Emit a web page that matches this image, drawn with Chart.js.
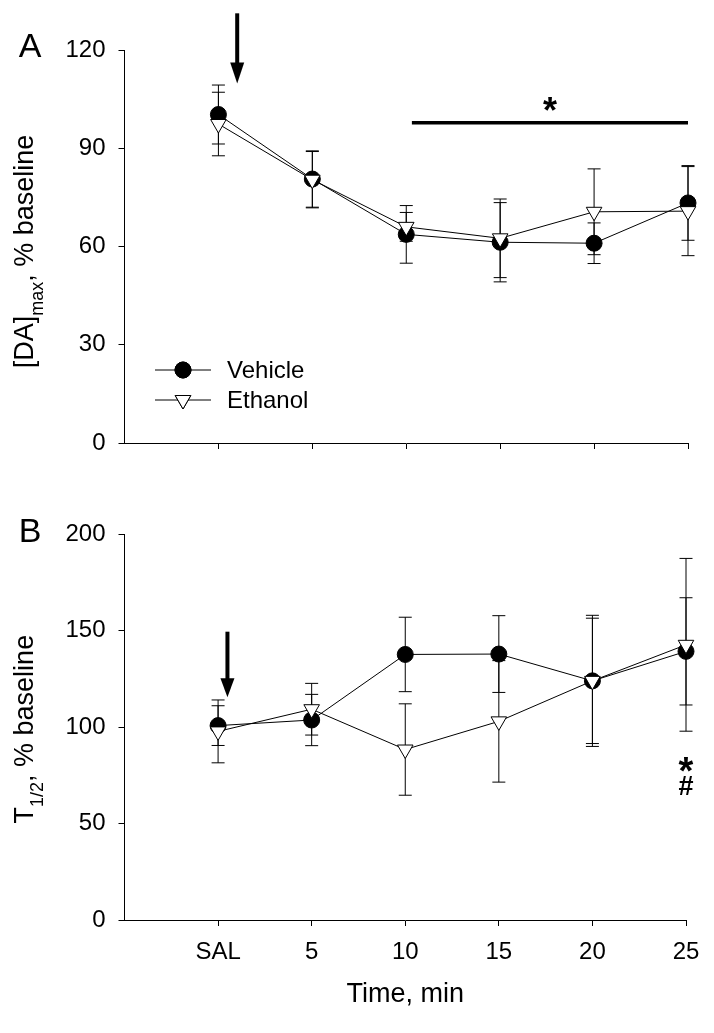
<!DOCTYPE html>
<html lang="en">
<head>
    <meta charset="UTF-8">
    <title>DA max and T1/2 vs time</title>
    <script src="https://cdn.jsdelivr.net/npm/chart.js"></script>
    <style>
        body { margin: 0; background: #fff; }
        #wrap { position: relative; width: 714px; height: 1033px; }
        canvas { position: absolute; left: 0; }
    </style>
</head>
<body>
<div id="wrap">
    <canvas id="chartA" width="714" height="480" style="top:0"></canvas>
    <canvas id="chartB" width="714" height="553" style="top:480px"></canvas>
</div>
<script>
    // x slots: SAL, then minutes after injection
    const timeLabels = ["SAL", "5", "10", "15", "20", "25"];
    const timeSlots = [0, 1, 2, 3, 4, 5];

    // panel A: [DA]max, % baseline (mean, SEM)
    const daVehicle = [100.3, 80.6, 63.7, 61.3, 61.0, 73.3];
    const daVehicleSem = [9.0, 8.6, 8.8, 12.1, 6.2, 11.4];
    const daEthanol = [97.4, 80.4, 66.0, 62.5, 70.6, 70.8];
    const daEthanolSem = [9.7, 8.6, 4.4, 12.0, 13.1, 13.6];

    // panel B: T1/2, % baseline (mean, SEM)
    const t12Vehicle = [100.8, 103.7, 137.7, 137.9, 124.0, 139.3];
    const t12VehicleSem = [10.3, 13.3, 19.3, 19.9, 32.5, 27.8];
    const t12Ethanol = [97.8, 109.3, 88.4, 103.0, 124.0, 142.7];
    const t12EthanolSem = [16.3, 13.4, 23.7, 31.5, 34.0, 44.8];

    const FONT = '"Liberation Sans", Arial, sans-serif';
    Chart.defaults.color = "#000";
    Chart.defaults.font.family = FONT;

    function points(values) {
        return timeSlots.map((x, i) => ({ x: x, y: values[i] }));
    }

    function vehicleSet(values, sem) {
        return {
            label: "Vehicle", data: points(values), sem: sem, order: 1,
            borderColor: "#000", borderWidth: 1, clip: false,
            pointStyle: "circle", pointRadius: 8,
            pointBackgroundColor: "#000", pointBorderColor: "#000", pointBorderWidth: 1
        };
    }

    function ethanolSet(values, sem) {
        return {
            label: "Ethanol", data: points(values), sem: sem, order: 0,
            borderColor: "#000", borderWidth: 1, clip: false,
            pointStyle: "triangle", pointRotation: 180, pointRadius: 9,
            pointBackgroundColor: "#fff", pointBorderColor: "#000", pointBorderWidth: 1
        };
    }

    // SEM bars, drawn under the markers
    const errorBars = {
        id: "errorBars",
        beforeDatasetsDraw(chart) {
            const ctx = chart.ctx, xs = chart.scales.x, ys = chart.scales.y;
            ctx.save();
            ctx.strokeStyle = "#000";
            ctx.lineWidth = 1;
            chart.data.datasets.forEach(ds => {
                ds.data.forEach((p, i) => {
                    const x = xs.getPixelForValue(p.x);
                    const top = ys.getPixelForValue(p.y + ds.sem[i]);
                    const bot = ys.getPixelForValue(p.y - ds.sem[i]);
                    ctx.beginPath();
                    ctx.moveTo(x, top); ctx.lineTo(x, bot);
                    ctx.moveTo(x - 6.5, top); ctx.lineTo(x + 6.5, top);
                    ctx.moveTo(x - 6.5, bot); ctx.lineTo(x + 6.5, bot);
                    ctx.stroke();
                });
            });
            ctx.restore();
        }
    };

    function drawArrow(ctx, x, yTop, yTip, headLen) {
        ctx.save();
        ctx.fillStyle = "#000";
        ctx.strokeStyle = "#000";
        ctx.lineWidth = 4;
        ctx.beginPath();
        ctx.moveTo(x, yTop);
        ctx.lineTo(x, yTip - headLen + 2);
        ctx.stroke();
        ctx.beginPath();
        ctx.moveTo(x - 7, yTip - headLen);
        ctx.lineTo(x + 7, yTip - headLen);
        ctx.lineTo(x, yTip);
        ctx.closePath();
        ctx.fill();
        ctx.restore();
    }

    // centre the ink of a glyph on (x, y)
    function drawInkCentered(ctx, text, font, x, y) {
        ctx.save();
        ctx.fillStyle = "#000";
        ctx.font = font;
        ctx.textAlign = "center";
        ctx.textBaseline = "alphabetic";
        const m = ctx.measureText(text);
        const mid = (m.actualBoundingBoxAscent - m.actualBoundingBoxDescent) / 2;
        ctx.fillText(text, x, y + mid);
        ctx.restore();
    }

    // rotated y title with a subscript part
    function drawYTitle(ctx, baseX, centerY, parts) {
        ctx.save();
        ctx.fillStyle = "#000";
        ctx.translate(baseX, centerY);
        ctx.rotate(-Math.PI / 2);
        ctx.textBaseline = "alphabetic";
        ctx.textAlign = "left";
        const widths = parts.map(p => {
            ctx.font = p[1] + "px " + FONT;
            return ctx.measureText(p[0]).width;
        });
        let x = -widths.reduce((s, w) => s + w, 0) / 2;
        parts.forEach((p, i) => {
            ctx.font = p[1] + "px " + FONT;
            ctx.fillText(p[0], x, p[2]);
            x += widths[i];
        });
        ctx.restore();
    }

    // panel furniture: letter, y title, arrow, significance marks, legend
    function makeExtras(cfg) {
        return {
            id: "extras",
            afterDraw(chart) {
                const ctx = chart.ctx, xs = chart.scales.x, ys = chart.scales.y;

                ctx.save();
                ctx.fillStyle = "#000";
                ctx.font = "34px " + FONT;
                ctx.textAlign = "center";
                ctx.textBaseline = "alphabetic";
                ctx.fillText(cfg.letter, 30, cfg.letterY);
                ctx.restore();

                drawYTitle(ctx, 33, (ys.top + ys.bottom) / 2 + cfg.titleShift, cfg.yTitle);

                const a = cfg.arrow;
                drawArrow(ctx, xs.getPixelForValue(a.x), ys.getPixelForValue(a.from),
                    ys.getPixelForValue(a.to), a.head);

                if (cfg.sigBar) {
                    const s = cfg.sigBar;
                    ctx.save();
                    ctx.strokeStyle = "#000";
                    ctx.lineWidth = 3.5;
                    ctx.beginPath();
                    ctx.moveTo(xs.getPixelForValue(s.x1), ys.getPixelForValue(s.y));
                    ctx.lineTo(xs.getPixelForValue(s.x2), ys.getPixelForValue(s.y));
                    ctx.stroke();
                    ctx.restore();
                }

                cfg.marks.forEach(m => {
                    drawInkCentered(ctx, m.text, m.font, xs.getPixelForValue(m.x), ys.getPixelForValue(m.y));
                });

                if (cfg.legend) {
                    const lg = cfg.legend;
                    ctx.save();
                    ctx.font = "24px " + FONT;
                    ctx.textBaseline = "middle";
                    ctx.textAlign = "left";
                    chart.data.datasets.slice().sort((p, q) => q.order - p.order).forEach((ds, i) => {
                        const y = lg.y + i * lg.gap;
                        ctx.strokeStyle = "#000";
                        ctx.lineWidth = 1;
                        ctx.beginPath();
                        ctx.moveTo(lg.x, y);
                        ctx.lineTo(lg.x + 56, y);
                        ctx.stroke();
                        Chart.helpers.drawPoint(ctx, {
                            pointStyle: ds.pointStyle, rotation: ds.pointRotation || 0,
                            radius: ds.pointRadius, borderWidth: 1
                        }, lg.x + 28, y);
                        ctx.fillStyle = ds.pointBackgroundColor;
                        ctx.fill();
                        ctx.stroke();
                        ctx.fillStyle = "#000";
                        ctx.fillText(ds.label, lg.x + 72, y + 1);
                    });
                    ctx.restore();
                }
            }
        };
    }

    function makeScales(yMax, yStep, showX, xHeight) {
        return {
            x: {
                type: "linear", min: -1, max: 5,
                afterBuildTicks: s => { s.ticks = s.ticks.filter(t => t.value >= 0); },
                afterFit: s => { s.height = xHeight; },
                ticks: {
                    display: showX, stepSize: 1, padding: 12, autoSkip: false,
                    font: { size: 24 }, maxRotation: 0,
                    callback: v => timeLabels[v]
                },
                grid: { drawOnChartArea: false, drawTicks: true, tickLength: 6, color: "#000" },
                border: { display: true, color: "#000", width: 1 },
                title: {
                    display: showX, text: "Time, min",
                    font: { size: 27 }, padding: 0
                }
            },
            y: {
                min: 0, max: yMax,
                afterFit: s => { s.width = 124.5; },
                ticks: { stepSize: yStep, padding: 13, font: { size: 24 } },
                grid: { drawOnChartArea: false, drawTicks: true, tickLength: 6, color: "#000" },
                border: { display: true, color: "#000", width: 1 }
            }
        };
    }

    new Chart(document.getElementById("chartA"), {
        type: "line",
        data: { datasets: [vehicleSet(daVehicle, daVehicleSem), ethanolSet(daEthanol, daEthanolSem)] },
        options: {
            responsive: false, animation: false, events: [],
            layout: { autoPadding: false, padding: { left: 0, top: 50, right: 26, bottom: 0 } },
            scales: makeScales(120, 30, false, 37),
            plugins: { legend: { display: false }, tooltip: { enabled: false } }
        },
        plugins: [errorBars, makeExtras({
            letter: "A", letterY: 56.5, titleShift: 5,
            yTitle: [["[DA]", 27, 0], ["max", 18, 10], [", % baseline", 27, 0]],
            arrow: { x: 0.2, from: 131.2, to: 109.8, head: 21 },
            sigBar: { x1: 2.06, x2: 5.0, y: 97.8 },
            marks: [{ text: "*", font: "bold 36px " + FONT, x: 3.53, y: 103.5 }],
            legend: { x: 155, y: 370, gap: 30 }
        })]
    });

    new Chart(document.getElementById("chartB"), {
        type: "line",
        data: { datasets: [vehicleSet(t12Vehicle, t12VehicleSem), ethanolSet(t12Ethanol, t12EthanolSem)] },
        options: {
            responsive: false, animation: false, events: [],
            layout: { autoPadding: false, padding: { left: 0, top: 54.3, right: 28, bottom: 21.8 } },
            scales: makeScales(200, 50, true, 91.2),
            plugins: { legend: { display: false }, tooltip: { enabled: false } }
        },
        plugins: [errorBars, makeExtras({
            letter: "B", letterY: 62, titleShift: 2,
            yTitle: [["T", 27, 0], ["1/2", 18, 10], [", % baseline", 27, 0]],
            arrow: { x: 0.1, from: 149.5, to: 115.5, head: 19 },
            marks: [
                { text: "*", font: "bold 38px " + FONT, x: 5, y: 80.5 },
                { text: "#", font: "bold 27px " + FONT, x: 5, y: 69.5 }
            ]
        })]
    });
</script>
</body>
</html>
